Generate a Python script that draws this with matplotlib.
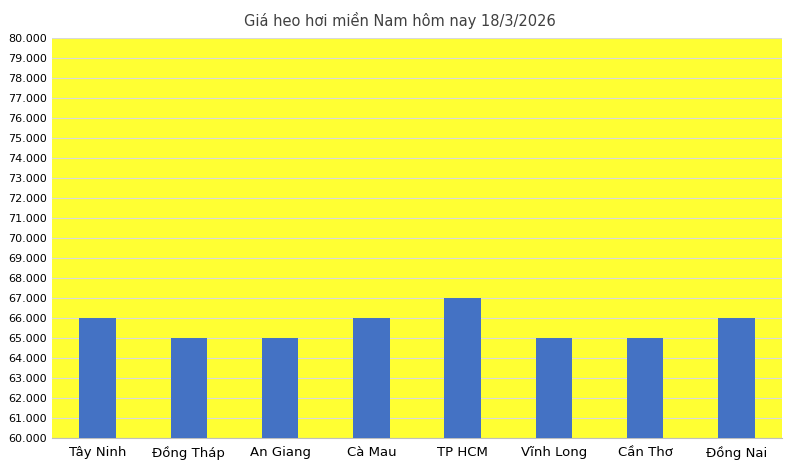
import numpy as np
import matplotlib.pyplot as plt
from matplotlib.ticker import FuncFormatter

provinces = ["Tây Ninh", "Đồng Tháp", "An Giang", "Cà Mau", "TP HCM", "Vĩnh Long", "Cần Thơ", "Đồng Nai"]
prices = [66000, 65000, 65000, 66000, 67000, 65000, 65000, 66000]

fig = plt.figure(figsize=(8, 4.7), dpi=100)
ax = fig.add_axes([0.065, 0.068, 0.9125, 0.851])
ax.set_facecolor("#FFFF33")

x = np.arange(len(provinces))
ax.bar(x, prices, width=0.4, color="#4472C4", zorder=3)

ax.set_ylim(60000, 80000)
ax.set_yticks(np.arange(60000, 80001, 1000))
ax.yaxis.set_major_formatter(FuncFormatter(lambda v, p: f"{int(v):,}".replace(",", ".")))
ax.set_xlim(-0.5, len(provinces) - 0.5)
ax.set_xticks(x)
ax.set_xticklabels(provinces, fontsize=9.5)
ax.tick_params(axis="y", labelsize=8, length=0)
ax.tick_params(axis="x", length=0, pad=6)
ax.grid(axis="y", color="#D9D9D9", linewidth=0.8, zorder=0)
for s in ["top", "right", "left"]:
    ax.spines[s].set_visible(False)
ax.spines["bottom"].set_color("#BFBFBF")

fig.suptitle("Giá heo hơi miền Nam hôm nay 18/3/2026", y=0.975, fontsize=10.5, color="#404040")

fig.savefig("out.png", dpi=100)
